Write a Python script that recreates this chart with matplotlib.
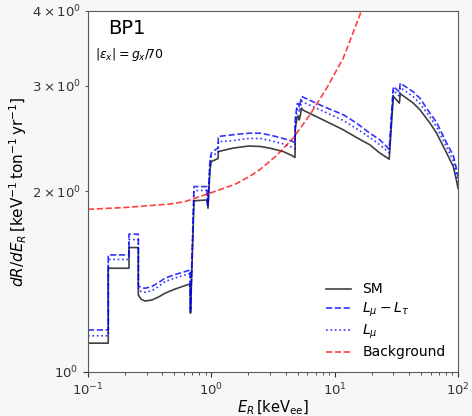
import matplotlib
matplotlib.use("Agg")
import matplotlib.pyplot as plt

# Recoil energy grid [keV_ee] (repeated values give the shell-threshold steps)
energy_kev = [0.100, 0.146, 0.146, 0.215, 0.215, 0.256, 0.256, 0.270, 0.290, 0.330,
              0.380, 0.421, 0.500, 0.612, 0.672, 0.678, 0.724, 0.917, 0.940, 0.975,
              1.000, 1.090, 1.135, 1.140, 1.500, 2.000, 2.500, 3.000, 3.830, 4.500,
              4.770, 4.800, 4.980, 5.100, 5.170, 5.400, 5.570, 8.100, 11.75, 15.00,
              19.30, 23.30, 27.70, 29.90, 33.50, 34.00, 43.40, 49.20, 59.30, 67.10,
              81.00, 91.60, 97.00, 100.0]

# Event rates [keV^-1 ton^-1 yr^-1]
rate_sm = [1.117, 1.117, 1.489, 1.489, 1.612, 1.612, 1.344, 1.322, 1.313, 1.318,
           1.336, 1.353, 1.373, 1.393, 1.402, 1.253, 1.929, 1.935, 1.875, 2.173,
           2.243, 2.260, 2.270, 2.330, 2.361, 2.380, 2.376, 2.360, 2.330, 2.295,
           2.278, 2.550, 2.666, 2.670, 2.630, 2.753, 2.730, 2.630, 2.533, 2.460,
           2.391, 2.316, 2.263, 2.880, 2.806, 2.910, 2.806, 2.735, 2.599, 2.500,
           2.316, 2.200, 2.090, 2.025]

rate_lmu_ltau = [1.175, 1.175, 1.567, 1.567, 1.697, 1.697, 1.391, 1.383, 1.379, 1.388,
                 1.413, 1.433, 1.452, 1.470, 1.479, 1.270, 2.037, 2.037, 1.900, 2.257,
                 2.316, 2.350, 2.360, 2.469, 2.485, 2.500, 2.500, 2.482, 2.450, 2.425,
                 2.410, 2.650, 2.800, 2.800, 2.760, 2.880, 2.870, 2.770, 2.684, 2.600,
                 2.500, 2.437, 2.350, 2.990, 2.930, 3.030, 2.930, 2.858, 2.700, 2.605,
                 2.407, 2.295, 2.184, 2.117]

rate_lmu = [1.149, 1.149, 1.540, 1.540, 1.662, 1.662, 1.370, 1.362, 1.358, 1.366,
            1.392, 1.415, 1.433, 1.451, 1.459, 1.260, 2.005, 2.008, 1.890, 2.220,
            2.290, 2.310, 2.320, 2.420, 2.430, 2.450, 2.450, 2.430, 2.400, 2.370,
            2.355, 2.610, 2.745, 2.750, 2.710, 2.830, 2.815, 2.720, 2.625, 2.545,
            2.460, 2.390, 2.320, 2.950, 2.880, 2.980, 2.875, 2.800, 2.660, 2.560,
            2.370, 2.250, 2.140, 2.070]

# Background model
bkg_energy_kev = [0.1, 0.2, 0.462, 0.612, 1.0, 1.556, 2.06, 2.48, 3.39, 4.62,
                  6.31, 8.62, 11.75, 16.05, 17.0]
bkg_rate = [1.867, 1.880, 1.905, 1.923, 1.990, 2.055, 2.120, 2.175, 2.295, 2.455,
            2.684, 2.972, 3.336, 3.940, 4.090]

fig = plt.figure(figsize=(4.72, 4.16), dpi=100, facecolor="#f7f7f7")
ax = fig.add_axes([0.1864, 0.1058, 0.7839, 0.8684])
ax.set_facecolor("white")

ax.plot(energy_kev, rate_sm, color="black", lw=1.2, alpha=0.75, label="SM")
ax.plot(energy_kev, rate_lmu_ltau, color="blue", lw=1.2, ls="--", alpha=0.8,
        label=r"$L_\mu - L_\tau$")
ax.plot(energy_kev, rate_lmu, color="blue", lw=1.2, ls=":", alpha=0.8,
        label=r"$L_\mu$")
ax.plot(bkg_energy_kev, bkg_rate, color="red", lw=1.2, ls="--", alpha=0.75,
        label="Background")

ax.set_xscale("log")
ax.set_yscale("log")
ax.set_xlim(0.1, 100)
ax.set_ylim(1, 4)

ax.tick_params(axis="both", which="both", labelsize=9.5, colors="0.2")
ax.set_xlabel(r"$E_R\,[\mathrm{keV_{ee}}]$", fontsize=10.5, labelpad=0)
ax.set_ylabel(r"$dR/dE_R\,[\mathrm{keV^{-1}\,ton^{-1}\,yr^{-1}}]$", fontsize=11,
              labelpad=2)

for s in ax.spines.values():
    s.set_color("0.35")

ax.text(0.055, 0.95, "BP1", transform=ax.transAxes, fontsize=14, va="center")
ax.text(0.02, 0.878, r"$|\varepsilon_x| = g_x/70$", transform=ax.transAxes,
        fontsize=9, va="center")

ax.legend(loc="lower right", frameon=False, fontsize=10, labelspacing=0.3,
          handlelength=1.8, borderaxespad=0.5)

fig.savefig("out.png", dpi=100, facecolor=fig.get_facecolor())
